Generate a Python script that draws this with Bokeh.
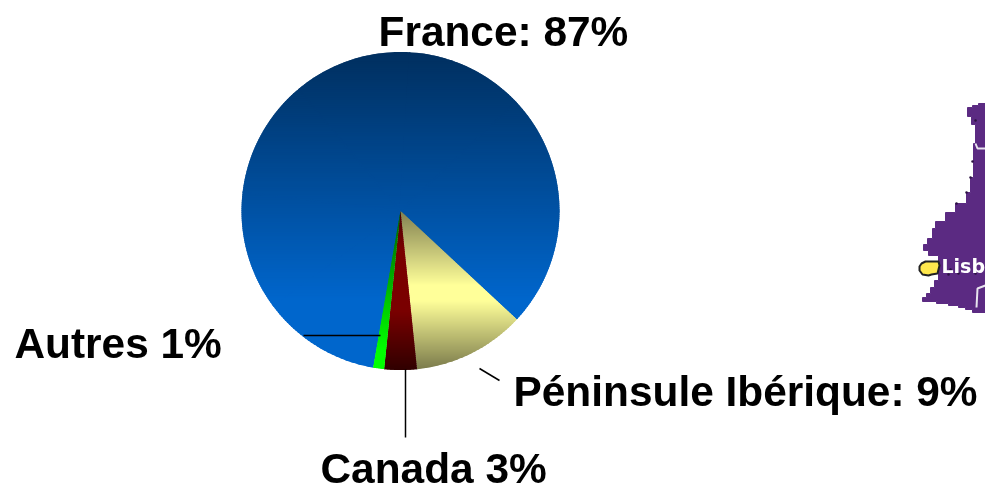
import numpy as np
from bokeh.plotting import figure
from bokeh.models import Range1d
from bokeh.core.properties import value
from bokeh.embed import file_html
from bokeh.resources import INLINE

# data ---------------------------------------------------------------
categories = ["France", "Péninsule Ibérique", "Canada", "Autres"]
slice_shares = [84.2, 11.4, 3.3, 1.1]          # as drawn in the picture
labels = ["France: 87%", "Péninsule Ibérique: 9%", "Canada 3%", "Autres 1%"]
label_x = [378, 513, 320, 14]
label_y = [31, 391, 468, 343]
leader_x = [[479, 499], [405, 405], [303, 380]]
leader_y = [[368, 380], [369, 437], [335, 335]]
start_angle_deg = 133.0                         # clockwise from north, end of France

gradient_y = {
    "France": [52, 300, 369],
    "Péninsule Ibérique": [210, 285, 300, 369],
    "Canada": [210, 250, 310, 369],
    "Autres": [210, 350, 369],
}
gradient_rgb = {
    "France": [(0, 47, 95), (0, 102, 204), (0, 102, 204)],
    "Péninsule Ibérique": [(128, 127, 80), (255, 255, 153), (255, 255, 153), (122, 122, 75)],
    "Canada": [(70, 0, 0), (122, 0, 0), (122, 0, 0), (48, 0, 0)],
    "Autres": [(0, 96, 0), (0, 255, 0), (0, 255, 0)],
}

map_x = [967, 972, 972, 978, 978, 985, 985, 972, 972, 965, 965, 958, 958, 948, 948, 936,
         936, 922, 922, 926, 926, 930, 930, 934, 934, 938, 938, 928, 928, 923, 923, 927,
         927, 932, 932, 935, 935, 945, 945, 955, 955, 966, 966, 970, 970, 973, 973, 975,
         975, 971, 971, 967]
map_y = [107, 107, 105, 105, 103, 103, 312, 312, 309, 309, 307, 307, 305, 305, 303, 303,
         301, 301, 297, 297, 293, 293, 287, 287, 280, 280, 255, 255, 250, 250, 244, 244,
         238, 238, 228, 228, 221, 221, 212, 212, 203, 203, 192, 192, 177, 177, 143, 143,
         124, 124, 116, 116]
river_x = [975, 977, 985]
river_y = [143, 148, 148]
river2_x = [976, 977, 985]
river2_y = [307, 288, 285]
coast_dot_x = [975, 972, 970, 966, 956, 950, 948, 958, 975]
coast_dot_y = [120, 161, 177, 192, 203, 269, 274, 273, 273]
marker_x = [921, 925, 938, 939, 937, 931, 928, 922, 919, 919]
marker_y = [263, 261, 261, 265, 273, 274, 275, 274, 270, 266]
city = "Lisb"
city_x = [941]
city_y = [265]

CX, CY, R = 400.0, 210.5, 159.0


def lerp_color(name, y):
    ys, cols = gradient_y[name], np.array(gradient_rgb[name], float)
    return "#%02x%02x%02x" % tuple(int(round(np.interp(y, ys, cols[:, i]))) for i in range(3))


def clip_band(poly, y0, y1):
    def clip(pts, keep, cross):
        out = []
        for i in range(len(pts)):
            a, b = pts[i], pts[(i + 1) % len(pts)]
            if keep(a):
                out.append(a)
            if keep(a) != keep(b):
                t = (cross - a[1]) / (b[1] - a[1])
                out.append((a[0] + t * (b[0] - a[0]), cross))
        return out
    pts = clip(poly, lambda q: q[1] >= y0, y0)
    return clip(pts, lambda q: q[1] <= y1, y1) if pts else []


p = figure(width=985, height=488, x_range=Range1d(0, 985), y_range=Range1d(488, 0),
           toolbar_location=None, output_backend="svg", min_border=0,
           outline_line_color=None, background_fill_color="white")
p.styles = {"position": "fixed", "left": "0px", "top": "0px"}
p.axis.visible = False
p.grid.visible = False

shares = np.array(slice_shares, float)
frac = shares / shares.sum() * 360
angle_start = {}
a = start_angle_deg
for i in [1, 2, 3, 0]:
    angle_start[i] = a
    a += frac[i]

step = 2.0
for idx in [0, 1, 2, 3]:
    name = categories[idx]
    a0, a1 = angle_start[idx], angle_start[idx] + frac[idx]
    n_sub = max(1, int(np.ceil((a1 - a0) / 45)))
    rows = []
    for s in range(n_sub):
        lo = a0 + (a1 - a0) * s / n_sub
        hi = a0 + (a1 - a0) * (s + 1) / n_sub + (0.5 if s < n_sub - 1 else 0)
        th = np.radians(np.linspace(lo, hi, 32))
        # sub-wedges of a large slice share a pushed-back apex, so no star shows at the centre
        push = 3.0 if n_sub > 1 else 0.0
        mid = np.radians((lo + hi) / 2)
        apex = (CX - push * np.sin(mid), CY + push * np.cos(mid))
        poly = [apex] + [(CX + R * np.sin(t), CY - R * np.cos(t)) for t in th]
        ymin, ymax = min(q[1] for q in poly), max(q[1] for q in poly)
        y = np.floor(ymin)
        while y < ymax:
            piece = clip_band(poly, y, y + step + 1.5)
            if len(piece) >= 3:
                rows.append((y, [q[0] for q in piece], [q[1] for q in piece]))
            y += step
    rows.sort(key=lambda r: r[0])
    p.patches([r[1] for r in rows], [r[2] for r in rows],
              fill_color=[lerp_color(name, r[0] + step / 2) for r in rows],
              fill_alpha=1.0, line_color=None)

# leader lines
p.multi_line(leader_x, leader_y, line_color="black", line_width=1.5)

# map fragment
p.patch(map_x, map_y, fill_color="#5b2a82", line_color="#5b2a82", line_width=1)
p.line(river_x, river_y, line_color="#e8e4ee", line_width=2)
p.line(river2_x, river2_y, line_color="#e8e4ee", line_width=2)
p.scatter(coast_dot_x, coast_dot_y, size=2.5, color="#2a1040", line_width=0)
p.patch(marker_x, marker_y, fill_color="#ffe84d", line_color="#222222", line_width=2)
p.text(city_x, city_y, text=[city], text_color="white", text_font=value("DejaVu Sans"),
       text_font_style="bold", text_font_size="19px", text_baseline="middle")

# labels
p.text(label_x, label_y, text=labels, text_color="black",
       text_font=value("Liberation Sans"), text_font_style="bold",
       text_font_size="42.4px", text_baseline="middle", text_align="left")

open("out.html", "w").write(file_html(p, INLINE))
